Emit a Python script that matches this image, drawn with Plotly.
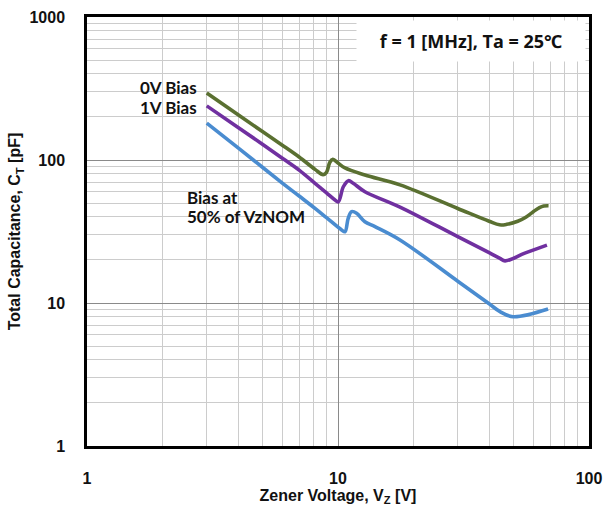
import plotly.graph_objects as go

# ---- data (Zener voltage [V] vs total capacitance [pF]) ----
vz_0v = [3.0, 4.0, 5.0, 6.0, 7.0, 8.1, 8.72, 9.0, 9.27, 9.54, 10.0, 10.66, 12.8, 17.66,
         30.0, 40.0, 44.0, 47.0, 52.0, 56.0, 60.0, 63.5, 66.0, 69.0]
ct_0v = [294, 207, 158, 127, 105, 86, 79, 82, 96, 101, 95.3, 88, 78.6, 67,
         45.8, 37.3, 35.2, 35.5, 37.3, 39.8, 43.5, 46.5, 47.7, 47.9]

vz_1v = [3.0, 4.0, 5.0, 6.0, 7.0, 8.1, 9.0, 9.73, 10.03, 10.5, 11.0, 11.5, 12.8,
         17.66, 30.0, 40.0, 44.2, 46.3, 55.5, 68.0]
ct_1v = [239, 169, 129, 103, 85, 68.7, 58.9, 52.5, 51, 65, 71.7, 68.7, 60,
         46.9, 29.1, 22.5, 20.5, 19.7, 22.3, 25.4]

vz_50 = [3.0, 4.0, 5.0, 6.0, 7.0, 8.1, 9.0, 10.34, 10.66, 10.98, 11.33, 11.86, 12.8,
         14.04, 17.66, 30.0, 40.0, 44.2, 49.8, 68.7]
ct_50 = [181, 121.5, 89, 69, 56, 45.9, 39.5, 32.4, 31.5, 39.1, 43.5, 42.4, 37.0,
         34.2, 27.6, 14.2, 9.87, 8.7, 8.02, 9.08]

series_names = ["0V Bias", "1V Bias", "Bias at 50% of VzNOM"]
series_colors = ["#5A7031", "#7030A0", "#4A8CD0"]

x_ticks = [1, 10, 100]
x_ticktext = ["1", "10", "100"]
y_ticks = [1, 10, 100, 1000]
y_ticktext = ["1", "10", "100", "1000"]
x_minor = [m * d for d in (1, 10) for m in range(2, 10)]
y_minor = [m * d for d in (1, 10, 100) for m in range(2, 10)]

fig = go.Figure()
for xs, ys, name, col in zip([vz_0v, vz_1v, vz_50], [ct_0v, ct_1v, ct_50],
                             series_names, series_colors):
    fig.add_trace(go.Scatter(x=xs, y=ys, mode="lines", name=name,
                             line=dict(color=col, width=3.6, shape="spline", smoothing=1.0),
                             hoverinfo="skip"))

tick_font = dict(family="Liberation Sans, Arial, sans-serif", size=16, color="#111111", weight="bold")
label_font = dict(family="Lato, Noto Sans, sans-serif", size=17, color="#111111", weight="bold")

axis_common = dict(
    type="log", showline=True, mirror=True, linecolor="black", linewidth=2.5,
    showgrid=True, gridcolor="#8a8a8a", gridwidth=1.2, zeroline=False,
    ticks="", tickfont=tick_font, tickmode="array",
)

fig.update_xaxes(**axis_common, range=[0, 2], tickvals=x_ticks, ticktext=x_ticktext,
                 ticklabelstandoff=16,
                 minor=dict(tickvals=x_minor, showgrid=True, gridcolor="#cccccc", gridwidth=1.2, ticks=""),
                 title=dict(text="Zener Voltage, V<sub>Z</sub> [V]", font=tick_font, standoff=3))
fig.update_yaxes(**axis_common, range=[0, 3], tickvals=y_ticks, ticktext=y_ticktext,
                 ticklabelstandoff=16,
                 minor=dict(tickvals=y_minor, showgrid=True, gridcolor="#cccccc", gridwidth=1.2, ticks=""),
                 title=dict(text="Total Capacitance, C<sub>T</sub> [pF]", font=tick_font, standoff=5))

annotations = [
    dict(text="0V Bias", x=0.2231, y=0.8368, xanchor="right", yanchor="middle"),
    dict(text="1V Bias", x=0.2231, y=0.7879, xanchor="right", yanchor="middle"),
    dict(text="Bias at", x=0.1952, y=0.5804, xanchor="left", yanchor="middle"),
    dict(text="50% of VzNOM", x=0.1952, y=0.5338, xanchor="left", yanchor="middle"),
]
for a in annotations:
    fig.add_annotation(xref="paper", yref="paper", showarrow=False, font=label_font, **a)

fig.add_annotation(xref="paper", yref="paper", x=0.994, y=0.994, xanchor="right", yanchor="top",
                   text="f = 1 [MHz], Ta = 25℃", showarrow=False,
                   font=dict(family="Open Sans, Noto Sans, sans-serif", size=18, color="#111111", weight="bold"),
                   bgcolor="white", width=228, height=40, borderpad=0, align="center", valign="middle")

fig.update_layout(
    width=603, height=510, showlegend=False,
    margin=dict(l=87, r=14, t=17, b=64, autoexpand=False),
    paper_bgcolor="white", plot_bgcolor="white",
)

fig.write_html("out.html", config={"displayModeBar": False},
               post_script="document.body.style.margin='0';document.body.style.overflow='hidden';")
